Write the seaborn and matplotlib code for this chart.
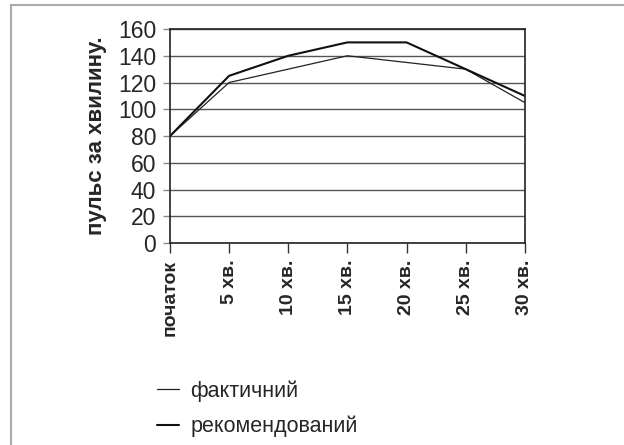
import matplotlib
matplotlib.use("Agg")
import matplotlib.pyplot as plt
import seaborn as sns
import pandas as pd
from matplotlib.patches import Rectangle
from matplotlib.lines import Line2D

categories = ["початок", "5 хв.", "10 хв.", "15 хв.", "20 хв.", "25 хв.", "30 хв."]
actual = [80, 120, 130, 140, 135, 130, 105]
recommended = [80, 125, 140, 150, 150, 130, 110]
series_names = ["фактичний", "рекомендований"]
yticks = [0, 20, 40, 60, 80, 100, 120, 140, 160]

sns.set_theme(style="white")
plt.rcParams['font.family'] = ['Liberation Sans', 'DejaVu Sans']

rows = []
for i, c in enumerate(categories):
    rows.append({"x": i, "value": actual[i], "series": series_names[0]})
    rows.append({"x": i, "value": recommended[i], "series": series_names[1]})
df = pd.DataFrame(rows)

fig = plt.figure(figsize=(6.24, 4.45), dpi=100)
ax = fig.add_axes([0.2724, 0.4539, 0.841 - 0.2724, 0.9348 - 0.4539])

sns.lineplot(data=df, x="x", y="value", hue="series", hue_order=series_names,
             palette={series_names[0]: "#222222", series_names[1]: "#111111"},
             size="series", sizes={series_names[0]: 0.9, series_names[1]: 1.5},
             size_order=series_names, ax=ax, legend=False)

ax.set_xlim(0, len(categories) - 1)
ax.set_ylim(0, 160)
ax.set_yticks(yticks)
ax.set_yticklabels([str(v) for v in yticks], fontsize=16.5)
ax.set_xticks(range(len(categories)))
ax.set_xticklabels(categories, rotation=90, fontsize=14, fontweight="bold")
ax.set_xlabel("")
ax.set_ylabel("пульс за хвилину.", fontsize=16, fontweight="bold", labelpad=8)
ax.yaxis.grid(True, color="#555555", linewidth=1.0)
ax.set_axisbelow(True)
for s in ax.spines.values():
    s.set_visible(True)
    s.set_color("#222222")
    s.set_linewidth(1.2)
ax.tick_params(axis="x", direction="out", length=7, width=1, color="#333333", pad=5, bottom=True)
ax.tick_params(axis="y", direction="out", length=5, width=1, color="#888888", pad=5, left=True)

handles = [Line2D([], [], color="#222222", linewidth=0.9),
           Line2D([], [], color="#111111", linewidth=1.5)]
fig.legend(handles, series_names, loc="upper left", bbox_to_anchor=(0.252, 0.145),
           frameon=False, fontsize=15.5, handlelength=1.0, handletextpad=0.55,
           labelspacing=0.65, borderaxespad=0, borderpad=0)

fig.patches.append(Rectangle((11 / 624, -0.1), 1.2, 1 - 5 / 445 + 0.1, transform=fig.transFigure,
                             fill=False, edgecolor="#aaaaaa", linewidth=1.5, zorder=0))

fig.savefig("out.png", dpi=100)
